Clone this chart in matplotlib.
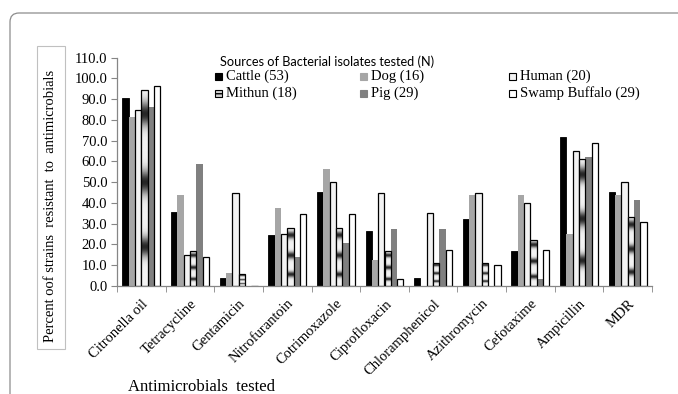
import numpy as np
import matplotlib
matplotlib.use("Agg")
import matplotlib.pyplot as plt
from matplotlib.patches import FancyBboxPatch, Rectangle
from matplotlib.transforms import IdentityTransform

categories = ["Citronella oil", "Tetracycline", "Gentamicin", "Nitrofurantoin",
              "Cotrimoxazole", "Ciprofloxacin", "Chloramphenicol", "Azithromycin",
              "Cefotaxime", "Ampicillin", "MDR"]
series_names = ["Cattle (53)", "Dog (16)", "Human (20)", "Mithun (18)", "Pig (29)",
                "Swamp Buffalo (29)"]
cattle = [90.6, 35.8, 3.8, 24.5, 45.3, 26.4, 3.8, 32.1, 17.0, 71.7, 45.3]
dog = [81.3, 43.8, 6.3, 37.5, 56.3, 12.5, 0.0, 43.8, 43.8, 25.0, 43.8]
human = [85.0, 15.0, 45.0, 25.0, 50.0, 45.0, 35.0, 45.0, 40.0, 65.0, 50.0]
mithun = [94.4, 16.7, 5.6, 27.8, 27.8, 16.7, 11.1, 11.1, 22.2, 61.1, 33.3]
pig = [86.2, 58.6, 0.0, 13.8, 20.7, 27.6, 27.6, 0.0, 3.4, 62.1, 41.4]
swamp_buffalo = [96.6, 13.8, 0.0, 34.5, 34.5, 3.4, 17.2, 10.3, 17.2, 69.0, 31.0]
yticks = np.arange(0, 111, 10)

series = [cattle, dog, human, mithun, pig, swamp_buffalo]
faces = ["black", "#a6a6a6", "#f2f2f2", "white", "#808080", "white"]
edges = ["black", "#a6a6a6", "black", "black", "#808080", "black"]
lws = [0.6, 0.0, 0.9, 0.9, 0.0, 0.9]

W, H = 678, 394
fig = plt.figure(figsize=(W / 100, H / 100), dpi=100)
fig.patch.set_facecolor("white")

ax = fig.add_axes([117 / W, (H - 286) / H, 535 / W, 228.3 / H])
serif = "Liberation Serif"

# Mithun gradient
t = np.linspace(0, 1, 300)
v = 0.95 - 0.8 * (np.exp(-((t - 0.12) / 0.06) ** 2)
                  + np.exp(-((t - 0.47) / 0.06) ** 2)
                  + np.exp(-((t - 0.80) / 0.05) ** 2))
grad = np.clip(v, 0, 1)[:, None]

bw = 0.13
x = np.arange(len(categories))
for i, vals in enumerate(series):
    offs = (i - 2.5) * bw
    if i == 3:
        bars = ax.bar(x + offs, vals, bw, facecolor="none", edgecolor=edges[i],
                      linewidth=lws[i], zorder=3)
        for b, val in zip(bars, vals):
            if val <= 0:
                continue
            x0 = b.get_x()
            im = ax.imshow(grad, cmap="gray", vmin=0, vmax=1, aspect="auto",
                           extent=[x0, x0 + bw, 0, val], zorder=2,
                           interpolation="bilinear")
            im.set_clip_path(b)
    else:
        ax.bar(x + offs, vals, bw, color=faces[i], edgecolor=edges[i],
               linewidth=lws[i], zorder=2)

ax.set_xlim(-0.5, len(categories) - 0.5)
ax.set_ylim(0, 110)
ax.set_yticks(yticks)
ax.set_yticklabels([f"{v:.1f}" for v in yticks], fontfamily=serif, fontsize=10.5)
ax.set_xticks(x)
ax.set_xticklabels(categories, rotation=45, ha="right", va="top",
                   rotation_mode="anchor", fontfamily=serif, fontsize=10.5)
ax.tick_params(axis="x", which="major", length=0, pad=8)
ax.set_xticks(np.arange(-0.5, len(categories)), minor=True)
ax.tick_params(axis="x", which="minor", length=4, color="#868686", direction="out")
ax.tick_params(axis="y", length=4, color="#868686", direction="out", pad=3)
for s in ["top", "right"]:
    ax.spines[s].set_visible(False)
for s in ["left", "bottom"]:
    ax.spines[s].set_color("#868686")
    ax.spines[s].set_linewidth(0.9)

# outer frame
frame = FancyBboxPatch((10, -40), 720, H - 13 + 40,
                       boxstyle="round,pad=0,rounding_size=9",
                       transform=IdentityTransform(), facecolor="none",
                       edgecolor="#8c8c8c", linewidth=0.9)
fig.patches.append(frame)

# y-label box
ybox = Rectangle((37, H - 349), 28, 303, transform=IdentityTransform(),
                 facecolor="white", edgecolor="#c0c0c0", linewidth=0.8)
fig.patches.append(ybox)
fig.text(51 / W, (H - 206) / H,
         "Percent oof strains  resistant  to  antimicrobials",
         rotation=90, ha="center", va="center", fontfamily=serif, fontsize=10.5)

fig.text(128 / W, (H - 387) / H, "Antimicrobials  tested", ha="left", va="center",
         fontfamily=serif, fontsize=12)

# legend
fig.text(220 / W, (H - 62) / H, "Sources of Bacterial isolates tested (N)",
         ha="left", va="center", fontfamily="Lato", fontsize=9.2)
col_x = [218, 363, 512]
row_y = [76, 93]
for i, name in enumerate(series_names):
    r, c = divmod(i, 3)
    cx, cy = col_x[c], row_y[r]
    s = 7
    rect = Rectangle((cx - s / 2, H - cy - s / 2), s, s, transform=IdentityTransform(),
                     facecolor=faces[i] if i != 3 else "#d0d0d0",
                     edgecolor=edges[i] if edges[i] != faces[i] else faces[i],
                     linewidth=0.8, hatch="----" if i == 3 else None)
    fig.patches.append(rect)
    fig.text((cx + 8) / W, (H - cy) / H, name, ha="left", va="center",
             fontfamily=serif, fontsize=10.5)

fig.savefig("out.png", dpi=100)
